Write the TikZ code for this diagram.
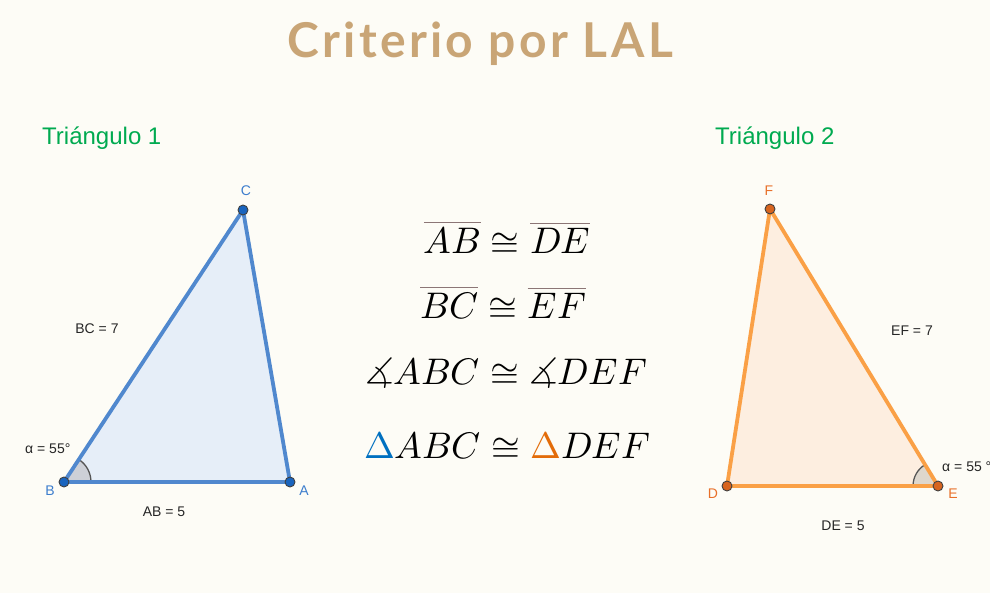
\documentclass[tikz,border=0pt]{standalone}
\usepackage{amsmath}
\usepackage{fontspec}
\usepackage{unicode-math}
\setmainfont{Liberation Sans}
\setmathfont{Latin Modern Math}
\newfontfamily\titlefont{Lato}[LetterSpace=7]
\usepackage{tikz}

\definecolor{bgcream}{RGB}{253,252,246}
\definecolor{titletan}{RGB}{201,165,118}
\definecolor{tgreen}{RGB}{0,170,80}
\definecolor{lineblue}{RGB}{80,136,206}
\definecolor{fillblue}{RGB}{230,238,248}
\definecolor{dotblue}{RGB}{25,100,190}
\definecolor{labblue}{RGB}{60,125,205}
\definecolor{lineorange}{RGB}{250,160,70}
\definecolor{fillorange}{RGB}{253,238,224}
\definecolor{dotorange}{RGB}{215,100,30}
\definecolor{laborange}{RGB}{232,112,42}
\definecolor{anggrey}{RGB}{205,208,215}
\definecolor{anggrey2}{RGB}{222,215,205}
\definecolor{arcgrey}{RGB}{85,85,85}
\definecolor{barbrown}{RGB}{140,118,118}
\definecolor{deltablue}{RGB}{0,112,192}
\definecolor{deltaorange}{RGB}{227,108,9}

\newcommand{\segbar}[1]{{\color{barbrown}\overline{{\color{black}#1}}}}

\begin{document}
\begin{tikzpicture}[x=1pt,y=-1pt]
\tikzstyle{every node}+=[inner sep=0pt]
\tikzstyle{vlab}=[font=\fontsize{14}{14}\selectfont]
\tikzstyle{mlab}=[font=\fontsize{14}{14}\selectfont, text=black!85]
\tikzstyle{ttl}=[font=\fontsize{24}{24}\selectfont, text=tgreen, anchor=base west]
\tikzstyle{eqn}=[font=\fontsize{37}{37}\selectfont, anchor=base]
\tikzstyle{dot}=[circle, minimum size=10pt, line width=0.9pt, draw=black!75]
\fill [bgcream] (0,0) rectangle (990,593);
\useasboundingbox (0,0) rectangle (990,593);
% title
\node (title) [anchor=base, text=titletan, font=\titlefont\bfseries\fontsize{48}{48}\selectfont] at (480,58) {Criterio por LAL};
\node (tri1) [ttl] at (42,145) {Triángulo 1};
\node (tri2) [ttl] at (715,145) {Triángulo 2};
% triangle 1
\coordinate (B) at (64,482);
\coordinate (A) at (290,482);
\coordinate (C) at (243,210);
\fill [fillblue] (B) -- (A) -- (C) -- cycle;
\fill [anggrey] (B) -- ++(0:27) arc (0:-56.7:27) -- cycle;
\draw [arcgrey, line width=1.3pt] (B) ++(0:27) arc (0:-56.7:27);
\draw [lineblue, line width=3.8pt, line join=round] (B) -- (A) -- (C) -- cycle;
\node (dB) [dot, fill=dotblue] at (B) {};
\node (dA) [dot, fill=dotblue] at (A) {};
\node (dC) [dot, fill=dotblue] at (C) {};
\node (lB) [vlab, text=labblue] at (50,491) {B};
\node (lA) [vlab, text=labblue] at (304,491) {A};
\node (lC) [vlab, text=labblue] at (246,191) {C};
\node (mBC) [mlab] at (97,329) {BC = 7};
\node (mAB) [mlab] at (164,512) {AB = 5};
\node (mB) [mlab, anchor=west] at (25,449) {α = 55°};
% triangle 2
\coordinate (D) at (727,486);
\coordinate (E) at (938,486);
\coordinate (F) at (770,209);
\fill [fillorange] (D) -- (E) -- (F) -- cycle;
\fill [anggrey2] (E) -- ++(180:25) arc (180:238.8:25) -- cycle;
\draw [arcgrey, line width=1.3pt] (E) ++(180:25) arc (180:238.8:25);
\draw [lineorange, line width=3.8pt, line join=round] (D) -- (E) -- (F) -- cycle;
\node (dD) [dot, fill=dotorange] at (D) {};
\node (dE) [dot, fill=dotorange] at (E) {};
\node (dF) [dot, fill=dotorange] at (F) {};
\node (lD) [vlab, text=laborange] at (713,494) {D};
\node (lE) [vlab, text=laborange] at (953,494) {E};
\node (lF) [vlab, text=laborange] at (769,191) {F};
\node (mEF) [mlab] at (912,331) {EF = 7};
\node (mDE) [mlab] at (843,526) {DE = 5};
\node (mE) [mlab, anchor=west] at (942,467) {α = 55 °};
% congruences
\node (eq1) [eqn] at (507,254) {$\segbar{AB}\cong\segbar{DE}$};
\node (eq2) [eqn] at (503,319) {$\segbar{BC}\cong\segbar{EF}$};
\node (eq3) [eqn] at (506,384) {$\measuredangle ABC\cong\measuredangle DEF$};
\node (eq4) [eqn] at (507,458) {${\color{deltablue}\Delta}ABC\cong{\color{deltaorange}\Delta}DEF$};
\end{tikzpicture}
\end{document}
